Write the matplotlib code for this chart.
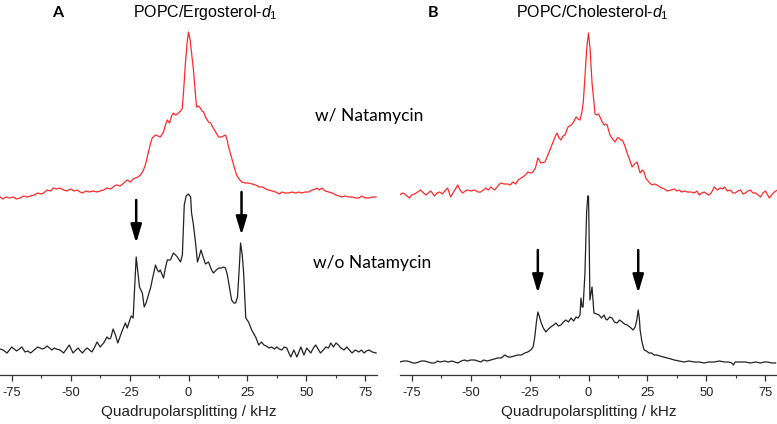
"""
2H-NMR Spektren: POPC/Ergosterol-d1 und POPC/Cholesterol-d1, mit und ohne Natamycin
"""
import matplotlib
matplotlib.use('Agg')
import matplotlib.pyplot as plt

plt.rcParams['font.family'] = ['Liberation Sans', 'DejaVu Sans']
plt.rcParams['axes.unicode_minus'] = False
plt.rcParams['mathtext.fontset'] = 'custom'
plt.rcParams['mathtext.rm'] = 'Liberation Sans'
plt.rcParams['mathtext.it'] = 'Liberation Sans:italic'

# ---- Daten (kHz, Intensitaet ueber Basislinie, willkuerliche Einheiten) ----
khz_a_red = [-80, -78.7, -77.5, -76, -74.5, -73, -71.5, -70, -68.5, -67, -65.5, -64, -62.5, -61.5, -60,
             -58.5, -57.4, -56, -54.5, -53, -51.6, -50, -48.5, -47.4, -46, -45, -43.5, -42, -40.5, -39,
             -37.5, -36, -34.6, -33, -31.5, -30.3, -29, -27.5, -26, -24.7, -23.5, -22.6, -21.5, -20.4,
             -19.3, -18.3, -17, -16.2, -15.4, -14, -13, -12, -10.6, -9.8, -9, -8, -7.2, -6.4, -5.5, -4.7,
             -3.4, -2.7, -2.2, -1.3, -0.6, 0, 0.7, 1.4, 2.1, 2.8, 3.4, 4.2, 5, 5.7, 6.4, 7.2, 8, 8.5, 9.4,
             10.5, 11.5, 12.2, 12.8, 14, 14.8, 15.7, 16.4, 17, 18.3, 19.4, 20.4, 21.5, 22.6, 24, 25.5, 27,
             28.5, 30, 31.5, 32.8, 34, 35.5, 37, 38.5, 39.6, 41, 42.6, 44, 45.5, 46.8, 48, 49.5, 51, 52.5,
             54, 54.5, 55.5, 56.6, 58, 59.5, 61, 62.5, 64, 65, 66.5, 68, 69.4, 71, 72.3, 73.5, 75, 76.6,
             78, 79.6]
int_a_red = [-2, -4, -2, -3, -2, -4, -3, -1, -2, -1, 0, 2, 1, 2, 5,
             4, 7, 6, 7, 5, 4, 6, 4, 5, 3, 2, 4, 3, 4, 3,
             4, 5, 7, 6, 9, 10, 9, 12, 15, 13, 16, 17, 18, 20,
             24, 30, 43, 51, 57, 60, 59, 58, 63, 70, 75, 72, 79, 82, 80, 81,
             84, 86, 100, 132, 152, 163, 155, 140, 125, 105, 88, 89, 87, 84, 83, 78, 75, 73, 72,
             67, 63, 60, 58, 58, 59, 60, 55, 48, 37, 28, 20, 16, 13, 12, 12, 11,
             10, 8, 8, 6, 5, 4, 3, 1, 3, 2, 2, 3, 2, 3, 2, 3, 3, 5,
             6, 7, 5, 7, 4, 3, 2, 0, -1, -2, -1, -2, -2, -3, -3, -1, -3, -3,
             -2, -2]

khz_a_black = [-80, -78.7, -77, -76, -75, -74, -73, -71.8, -70.7, -69.4, -68.2, -67, -65.5, -64, -63, -62,
               -61, -60, -59, -58, -57, -56, -54.5, -53, -51.8, -50.6, -49, -47.8, -46.8, -45.9, -45, -44,
               -43, -42, -41, -40, -38.8, -37.5, -36, -34.6, -33.8, -33, -32, -31, -30, -28.5, -26.8, -26,
               -25.2, -24.3, -23.5, -22.9, -22.2, -21.5, -20.8, -19.6, -18.8, -18, -17, -16, -15.4, -14,
               -13.2, -12.6, -12, -10.6, -9.8, -9, -7.7, -6.4, -5.5, -4.7, -3.4, -2.6, -2.2, -1.8, -1, 0,
               0.9, 1.3, 2.1, 3, 3.8, 4.5, 5.3, 6.2, 7.2, 8.5, 9.8, 10.6, 11.8, 12.8, 14, 14.9, 15.7, 16.5,
               17, 18.3, 19.2, 20, 20.8, 21.5, 22.1, 22.8, 23.4, 24.3, 25.5, 26.8, 28.5, 29.8, 31, 32, 33,
               34.2, 35.3, 36.5, 37.5, 38.5, 39.6, 40.6, 41.7, 42.6, 43.4, 44.7, 46, 47, 47.7, 49, 50.2,
               51.2, 51.9, 53, 54, 55, 56, 57.2, 58.3, 59.4, 60.4, 61.5, 62.6, 63.6, 64.7, 66, 67.2, 68.3,
               69.4, 70.8, 72.3, 73.4, 74.5, 75.5, 76.6, 78, 79.6]
int_a_black = [1, 0, -3, 0, 3, 1, -1, 1, 3, -2, -1, -3, 0, 3, 2, 1,
               2, 4, 2, 0, 2, 1, 0, -3, 1, 5, -3, 0, 2, -1, -3, 0,
               2, 0, -2, 2, 8, 3, 7, 13, 11, 12, 21, 15, 7, 17, 27, 22,
               28, 34, 32, 60, 93, 78, 63, 57, 43, 47, 55, 63, 70, 85,
               80, 78, 80, 72, 82, 90, 90, 97, 95, 93, 88, 95, 120, 145, 154, 156,
               153, 137, 125, 107, 88, 93, 100, 93, 86, 88, 80, 77, 80, 82, 82, 83, 82, 75,
               68, 50, 47, 47, 53, 80, 107, 95, 77, 32, 28, 20, 13, 5, 8, 5, 4,
               2, 3, 1, 3, 1, 0, 3, 2, -3, -7, 0, -7, -1, 3, -5, 2,
               -1, -3, 2, 5, 1, -3, 0, 3, 2, 7, 3, 7, 5, 2, 0, 3, 0,
               -3, 0, -2, 0, -3, -1, 0, -2, -3]

khz_b_red = [-80.2, -79, -78, -77, -76, -75, -73.8, -72.5, -71.3, -70, -69, -68, -67, -66, -65.3, -64.3,
             -63.2, -62, -61, -59.8, -58.5, -57, -55.5, -54.5, -53.4, -52.3, -51.3, -50, -48.3, -47,
             -45.7, -44.6, -43.6, -42.5, -41.5, -40.5, -39.8, -38.5, -37.2, -35.8, -34.3, -33.2, -32.1,
             -30.9, -29.9, -29.2, -27.9, -26.8, -25.7, -24.6, -23.6, -22.5, -21.5, -20.2, -18.5, -17.4,
             -16.4, -15.1, -14.2, -13.4, -12.5, -11.7, -10.8, -10, -8.7, -7.4, -6.3, -5.3, -4.4, -3.6,
             -2.8, -2.2, -1.5, -0.7, 0, 0.7, 1.5, 2.3, 2.8, 3.5, 4.2, 4.9, 5.8, 6.6, 7.3, 7.9, 8.5, 9.1,
             10.2, 11.3, 12.2, 13, 13.6, 14.3, 15.3, 16.4, 17.5, 18.5, 19.5, 20.6, 21.3, 21.9, 22.8, 23.6,
             24.3, 24.9, 26, 27, 28, 29.1, 30.2, 31.3, 32.3, 33.4, 35, 36.4, 37.5, 38.5, 39.5, 40.6, 41.9,
             43.5, 44.9, 46, 47, 48, 49.1, 50.2, 51.3, 52.3, 53.4, 54.6, 56, 57, 57.7, 59, 60.2, 61.3,
             62.3, 63.4, 64.5, 65.6, 66.6, 67.6, 68.7, 69.8, 70.9, 72, 73, 74, 75.1, 76, 76.8, 78, 78.9,
             80.2]
int_b_red = [-3, -1, -2, -4, -6, -3, -2, 0, 2, -1, -3, -1, 1, -2, -4, -1,
             0, -2, 1, 4, -5, 1, 7, 2, -1, 1, 2, 1, 2, 0,
             0, 2, 4, 2, 5, 3, 2, 6, 9, 8, 8, 7, 10,
             8, 12, 13, 15, 17, 20, 19, 20, 24, 34, 29, 30, 36,
             42, 50, 55, 59, 54, 52, 56, 57, 65, 67, 70, 75, 73, 72,
             80, 90, 115, 145, 159, 142, 109, 90, 78, 77, 78, 75, 70, 67, 68, 67, 62, 57,
             53, 50, 54, 54, 52, 52, 47, 39, 32, 25, 28, 30, 24, 19, 22, 20,
             14, 12, 9, 7, 8, 7, 5, 4, 3, 1, 2, 3, 1, 2, 0, 1, 0,
             0, -1, 1, -3, -1, 0, -2, -3, 0, 5, 2, 4, 3, 5, 1, 2, -1,
             -1, 1, 2, -2, -1, 1, 2, -1, -1, -3, -5, -1, 1, -3, -6, -2, 0,
             2]

khz_b_black = [-80, -78.5, -77, -75.5, -74.5, -73.4, -72, -71, -69.6, -68, -66.5, -65.3, -64, -63, -61,
               -59.5, -58, -56.8, -55.5, -54, -52.6, -51.5, -50, -48.3, -47, -45.7, -44.5, -43, -41.5,
               -40, -38.5, -37, -35.5, -34.2, -33, -31.5, -30, -28.5, -27, -25.8, -24.5, -23.5, -22.8,
               -22.1, -21.5, -20.9, -20.2, -19.2, -18.1, -17, -16, -14.8, -13.8, -12.8, -11.7, -10.6,
               -9.6, -8.5, -7.4, -6.3, -5.3, -4.4, -3.6, -3.2, -2.7, -2.3, -1.5, -0.8, -0.3, 0, 0.3, 0.6,
               1.5, 2.3, 3.4, 4.5, 5.5, 6.6, 7.3, 7.9, 9, 10, 11, 12.1, 13.2, 14.3, 15.3, 16.4, 17.6, 18.9,
               19.8, 20.5, 21.1, 21.6, 21.9, 22.7, 23.6, 24.6, 25.7, 26.8, 27.8, 29, 30.4, 31.8, 33.4, 35,
               36.4, 38.5, 40.6, 42.5, 44.9, 47, 49.1, 51, 53.4, 55.5, 57.7, 59.5, 60.8, 61.5, 62.2, 64.5,
               66.5, 68.7, 71, 73, 74.5, 76, 77.8, 79.4]
int_b_black = [0, 1, 1, 0, -1, -1, 0, 1, 1, 0, -1, -1, 1, 0, 1,
               0, 1, 0, -1, 1, 2, 1, 2, 2, 1, 0, 2, 1, 2,
               3, 4, 4, 7, 5, 5, 6, 7, 7, 9, 10, 12, 15, 25,
               40, 50, 46, 40, 34, 30, 33, 35, 37, 39, 36, 37, 40,
               42, 40, 44, 41, 45, 44, 47, 64, 55, 55, 89, 150, 166, 166, 120, 62,
               75, 49, 48, 47, 44, 47, 43, 42, 45, 44, 40, 39, 42, 40, 38, 37, 35, 32,
               35, 42, 52, 43, 32, 20, 12, 11, 9, 9, 7, 7, 6, 5, 4, 3,
               2, 1, 0, 1, 0, 0, -1, 0, 0, 1, 0, 0, -1, -3, 0, 0,
               0, -1, 0, -1, 0, 0, -1, -1]

# Pfeile auf die Quadrupolaufspaltung (kHz)
arrows_a = [-22.2, 22.5]
arrows_b = [-21.5, 21.1]

W, H = 777, 424
fig = plt.figure(figsize=(W / 100, H / 100), dpi=100)

def make_axes(left_px, right_px):
    ax = fig.add_axes([left_px / W, 1 - 375 / H, (right_px - left_px) / W, 375 / H])
    ax.set_xlim(-80, 80)
    ax.set_ylim(0, 375)
    for s in ['left', 'right', 'top']:
        ax.spines[s].set_visible(False)
    ax.spines['bottom'].set_linewidth(0.9)
    ax.spines['bottom'].set_color('#333333')
    ax.set_yticks([])
    ax.set_xticks([-75, -50, -25, 0, 25, 50, 75])
    ax.set_xticks([-62.5, -37.5, -12.5, 12.5, 37.5, 62.5], minor=True)
    ax.tick_params(axis='x', which='major', length=4, width=0.9, pad=4.5, labelsize=9.3,
                   color='#333333', labelcolor='#222222')
    ax.tick_params(axis='x', which='minor', length=2.5, width=0.8, color='#333333')
    ax.set_xlabel('Quadrupolarsplitting / kHz', fontsize=11, labelpad=4.5, color='#222222')
    ax.patch.set_alpha(0)
    return ax

def draw_arrows(ax, xs, ys_top, ys_tip):
    for x, yt, yb in zip(xs, ys_top, ys_tip):
        ax.annotate('', xy=(x, yb), xytext=(x, yt),
                    arrowprops=dict(arrowstyle='-|>,head_length=1.1,head_width=0.33',
                                    color='black', lw=1.8, shrinkA=0, shrinkB=0))

ax_a = make_axes(0, 377)
ax_a.plot(khz_a_red, [180 + v for v in int_a_red], color='#ff2a2a', lw=0.9)
ax_a.plot(khz_a_black, [25 + v for v in int_a_black], color='#222222', lw=0.9)
draw_arrows(ax_a, arrows_a, [175, 183], [132, 140])

ax_b = make_axes(400, 777)
ax_b.plot(khz_b_red, [183 + v for v in int_b_red], color='#ff2a2a', lw=0.9)
ax_b.plot(khz_b_black, [13 + v for v in int_b_black], color='#222222', lw=0.9)
draw_arrows(ax_b, arrows_b, [125, 125], [82, 82])

# Beschriftungen
fig.text(58 / W, 1 - 13 / H, 'A', fontsize=11.5, fontweight='bold', ha='center', va='center',
         family=['Lato', 'DejaVu Sans'])
fig.text(433 / W, 1 - 13 / H, 'B', fontsize=11.5, fontweight='bold', ha='center', va='center',
         family=['Lato', 'DejaVu Sans'])
fig.text(205 / W, 1 - 17 / H, 'POPC/Ergosterol-$d_1$', fontsize=11.5, ha='center', va='baseline')
fig.text(592 / W, 1 - 17 / H, 'POPC/Cholesterol-$d_1$', fontsize=11.5, ha='center', va='baseline')
fig.text(315 / W, 1 - 121 / H, 'w/ Natamycin', fontsize=12.5, family=['Lato', 'DejaVu Sans'],
         ha='left', va='baseline')
fig.text(313 / W, 1 - 268 / H, 'w/o Natamycin', fontsize=12.5, family=['Lato', 'DejaVu Sans'],
         ha='left', va='baseline')

fig.savefig('out.png', dpi=100)
